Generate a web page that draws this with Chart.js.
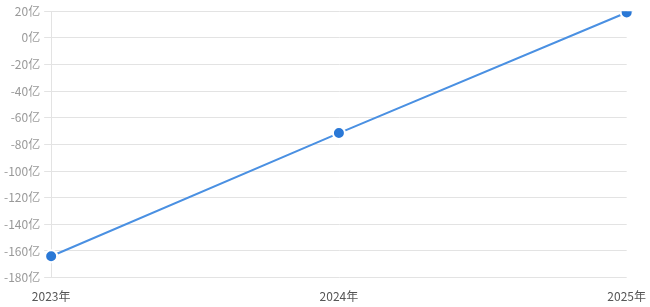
<!DOCTYPE html>
<html>
<head>
<meta charset="utf-8">
<script src="https://cdn.jsdelivr.net/npm/chart.js@4/dist/chart.umd.min.js"></script>
<style>
  html, body { margin: 0; padding: 0; background: #fff; }
  #wrap { width: 650px; height: 307px; }
</style>
</head>
<body>
<div id="wrap"><canvas id="chart"></canvas></div>
<script>
// data
const years = ['2023年', '2024年', '2025年'];
const values = [-164, -71.5, 19];
const yMin = -180, yMax = 20, yStep = 20;

const ctx = document.getElementById('chart').getContext('2d');
new Chart(ctx, {
    type: 'line',
    data: {
        labels: years,
        datasets: [{
            data: values,
            borderColor: '#4a90e2',
            borderWidth: 2,
            pointBackgroundColor: '#2a78d6',
            pointBorderColor: '#ffffff',
            pointBorderWidth: 2,
            pointRadius: 6,
            tension: 0
        }]
    },
    options: {
        responsive: true,
        maintainAspectRatio: false,
        animation: false,
        layout: { padding: { top: 4, right: -4, left: 0, bottom: -1 } },
        plugins: { legend: { display: false }, tooltip: { enabled: false } },
        scales: {
            x: {
                offset: false,
                grid: { display: false },
                border: { display: false },
                ticks: { color: '#555', font: { family: 'Noto Sans CJK SC', size: 12 }, maxRotation: 0, padding: 4 }
            },
            y: {
                min: yMin, max: yMax,
                grid: { color: '#e3e3e3', tickLength: 7 },
                border: { display: true, color: '#e3e3e3' },
                ticks: {
                    stepSize: yStep,
                    color: '#999',
                    padding: 4,
                    font: { family: 'Noto Sans CJK SC', size: 12 },
                    callback: v => v + '亿'
                }
            }
        }
    }
});
</script>
</body>
</html>
